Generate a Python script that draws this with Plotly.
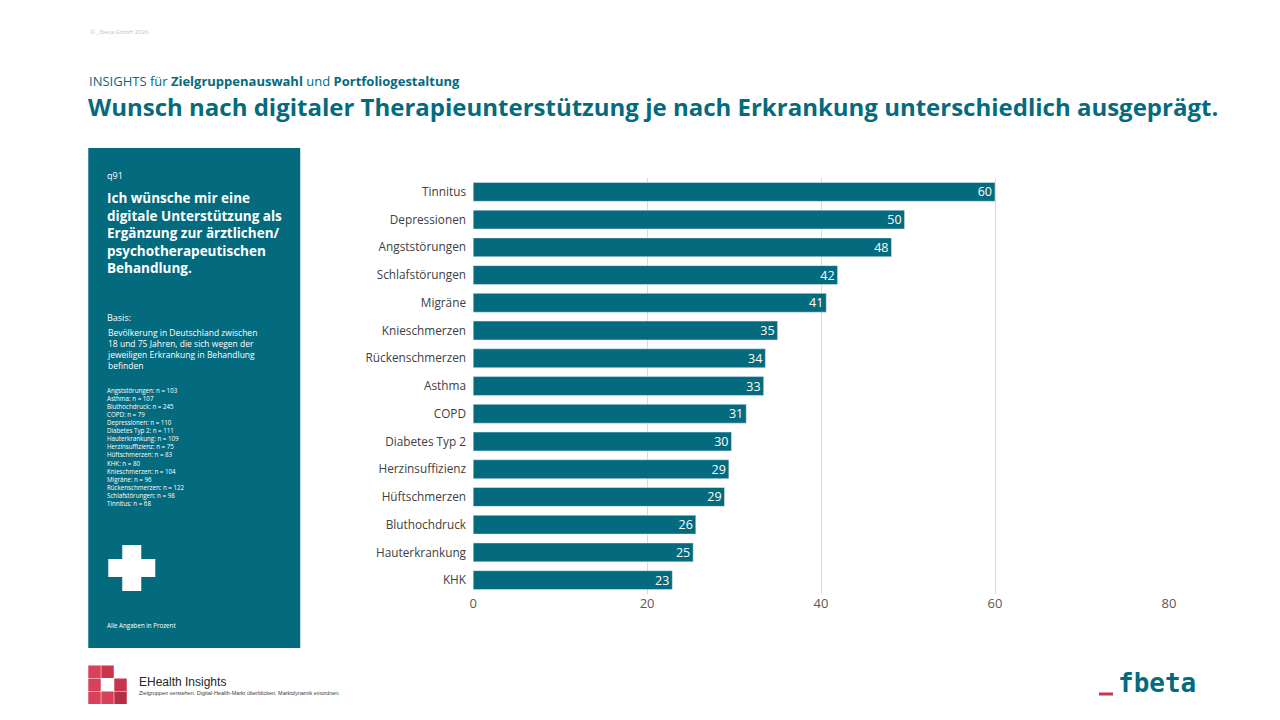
import plotly.graph_objects as go

categories = ["Tinnitus","Depressionen","Angststörungen","Schlafstörungen","Migräne","Knieschmerzen",
              "Rückenschmerzen","Asthma","COPD","Diabetes Typ 2","Herzinsuffizienz","Hüftschmerzen",
              "Bluthochdruck","Hauterkrankung","KHK"]
values = [60,50,48,42,41,35,34,33,31,30,29,29,26,25,23]
bar_len = [60,49.6,48.1,41.9,40.6,35,33.6,33.4,31.4,29.7,29.4,28.9,25.6,25.3,22.9]
ticks = [0,20,40,60,80]
n_lines = ["Angststörungen: n = 103","Asthma: n = 107","Bluthochdruck: n = 245","COPD: n = 79",
           "Depressionen: n = 110","Diabetes Typ 2: n = 111","Hauterkrankung: n = 109","Herzinsuffizienz: n = 75",
           "Hüftschmerzen: n = 83","KHK: n = 80","Knieschmerzen: n = 104","Migräne: n = 96",
           "Rückenschmerzen: n = 122","Schlafstörungen: n = 98","Tinnitus: n = 68"]

TEAL = "#046A7E"
F = "Open Sans"

def px(x):
    return ((x - 3.7) / 0.9917) / 1280

fig = go.Figure(go.Bar(y=categories, x=bar_len, orientation="h", marker_color=TEAL, width=0.68,
                       text=[str(v) for v in values], textposition="inside", insidetextanchor="end",
                       textangle=0, constraintext="none",
                       textfont=dict(color="white", size=12.5, family=F), cliponaxis=False))
fig.update_layout(
    width=1280, height=720, margin=dict(l=0, r=0, t=0, b=0), plot_bgcolor="white", paper_bgcolor="white",
    showlegend=False, font=dict(family=F),
    xaxis=dict(domain=[px(473), px(1169)], range=[0, 80], tickvals=ticks, showgrid=True,
               gridcolor="#D9D9D9", zeroline=False, tickfont=dict(size=13, color="#595959"), ticklen=0),
    yaxis=dict(domain=[1-594/720, 1-178/720], autorange="reversed", tickfont=dict(size=11.8, color="#404040"),
               ticks="", ticksuffix="  "),
    bargap=0.3,
)
shapes = [dict(type="rect", xref="paper", yref="paper", x0=px(88), x1=px(300), y0=1-648/720, y1=1-148/720,
               fillcolor=TEAL, line_width=0, layer="below"),
          dict(type="rect", xref="paper", yref="paper", x0=px(108), x1=px(155), y0=1-577/720, y1=1-559/720,
               fillcolor="white", line_width=0),
          dict(type="rect", xref="paper", yref="paper", x0=px(122), x1=px(141), y0=1-591/720, y1=1-545/720,
               fillcolor="white", line_width=0),
          dict(type="line", xref="paper", yref="paper", x0=px(1099), x1=px(1113), y0=1-694/720, y1=1-694/720,
               line=dict(color="#C8364E", width=3))]
cols = [["#D9415A", "#C8364E", None], ["#D9415A", None, "#C8364E"], ["#D9415A", "#D9415A", "#B52E45"]]
for r in range(3):
    for c in range(3):
        col = cols[r][c]
        if col:
            shapes.append(dict(type="rect", xref="paper", yref="paper",
                               x0=px(88+c*13), x1=px(88+c*13+12.5),
                               y0=1-(665+(r+1)*13)/720, y1=1-(665+r*13+0.5)/720, fillcolor=col, line_width=0))
fig.update_layout(shapes=shapes)

def ann(x, y, text, size, color, **kw):
    fig.add_annotation(xref="paper", yref="paper", x=px(x), y=1-y/720, text=text, showarrow=False,
                       xanchor=kw.pop("xanchor", "left"), yanchor=kw.pop("yanchor", "top"), align="left",
                       font=dict(size=size, color=color, family=kw.pop("family", F)), **kw)

ann(88, 26, "© _fbeta GmbH 2026", 6, "#BFBFBF")
ann(87, 70, "INSIGHTS für <b>Zielgruppenauswahl</b> und <b>Portfoliogestaltung</b>", 13, TEAL)
ann(86, 88, "<b>Wunsch nach digitaler Therapieunterstützung je nach Erkrankung unterschiedlich ausgeprägt.</b>", 24, TEAL)
ann(105, 167, "q91", 9, "white")
ann(105, 187, "<b>Ich wünsche mir eine<br>digitale Unterstützung als<br>Ergänzung zur ärztlichen/<br>psychotherapeutischen<br>Behandlung.</b>", 13.5, "white")
ann(105, 309, "Basis:", 9, "white")
ann(105, 325, "Bevölkerung in Deutschland zwischen<br>18 und 75 Jahren, die sich wegen der<br>jeweiligen Erkrankung in Behandlung<br>befinden", 8.5, "white")
ann(105, 384, "<br>".join(n_lines), 6.2, "white")
ann(105, 619, "Alle Angaben in Prozent", 6.2, "white")
ann(137, 673, "EHealth Insights", 12, "#262626", family="Arial")
ann(137, 688, "Zielgruppen verstehen. Digital-Health-Markt überblicken. Marktdynamik einordnen.", 5.5, "#404040", family="Arial")
ann(1116, 694, "<b>fbeta</b>", 26, TEAL, yanchor="bottom", family="DejaVu Sans Mono", yshift=-6)
fig.write_html("out.html", config={"displayModeBar": False})
with open("out.html", encoding="utf-8") as f:
    html = f.read()
html = html.replace("<body>", '<body style="margin:0;overflow:hidden">', 1)
with open("out.html", "w", encoding="utf-8") as f:
    f.write(html)
